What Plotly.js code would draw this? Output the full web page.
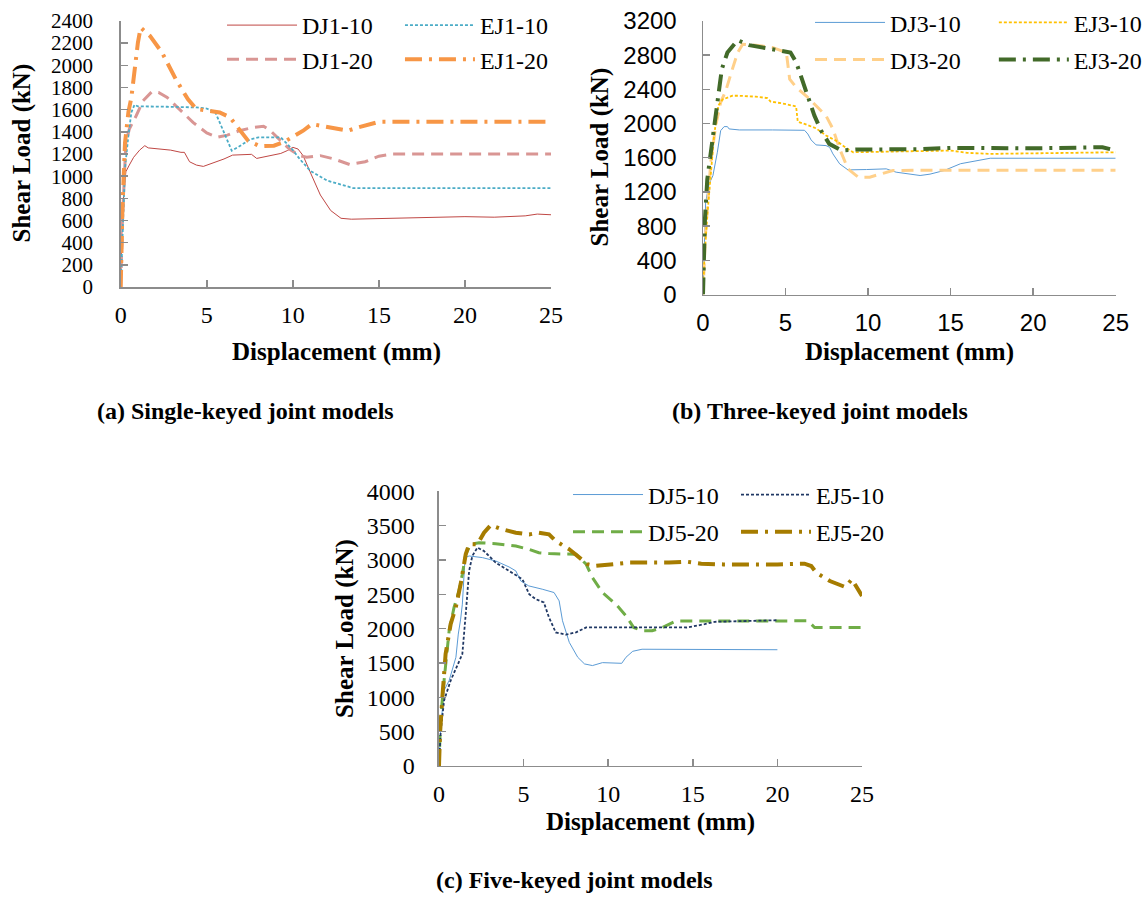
<!DOCTYPE html>
<html>
<head>
<meta charset="utf-8">
<script src="https://cdn.plot.ly/plotly-3.0.1.min.js"></script>
<style>html,body{margin:0;padding:0;background:#fff;}#chart{width:1148px;height:897px;}</style>
</head>
<body>
<div id="chart"></div>
<script>
// ---------- Panel (a) Single-keyed joint models ----------
const a_dj110_x = [0,0.05,0.15,0.3,0.5,0.75,1.1,1.4,1.6,2.3,2.9,3.5,3.7,4.0,4.4,4.8,5.4,6.0,6.5,7.3,7.6,7.9,8.5,9.3,9.7,10.0,10.3,10.6,11.0,11.6,12.2,12.8,13.4,15.8,17.9,20.0,21.7,23.5,24.2,25];
const a_dj110_y = [0,400,790,1040,1100,1170,1235,1275,1255,1245,1235,1215,1215,1130,1100,1088,1120,1155,1190,1191,1197,1160,1180,1205,1232,1260,1245,1185,1040,830,690,620,612,622,628,635,630,642,658,652];
const a_ej110_x = [0,0.1,0.25,0.45,0.62,0.8,1.0,2.7,4.4,5.0,5.5,6.0,6.45,6.9,7.5,8.0,8.7,9.3,9.55,9.95,10.4,11.0,12.0,13.3,13.5,25];
const a_ej110_y = [0,500,1070,1370,1575,1644,1630,1626,1620,1610,1575,1395,1230,1270,1330,1350,1347,1350,1310,1245,1155,1050,960,900,893,893];
const a_dj120_x = [0,0.1,0.3,0.5,0.9,1.3,1.8,2.2,2.7,3.4,4.2,5.0,5.6,6.2,6.9,7.7,8.3,8.7,9.3,9.8,10.4,10.8,11.6,12.4,13.3,14.2,15.0,15.8,25];
const a_dj120_y = [0,600,1300,1425,1545,1680,1760,1755,1710,1605,1485,1390,1350,1370,1410,1440,1450,1410,1320,1245,1185,1170,1185,1155,1105,1130,1180,1200,1200];
const a_ej120_x = [0,0.1,0.25,0.45,0.62,0.8,1.0,1.16,1.7,2.4,3.2,3.9,4.4,5.2,5.75,6.35,6.95,7.4,8.1,8.9,9.45,10.0,10.6,11.1,11.6,12.4,13.2,13.8,15.0,25];
const a_ej120_y = [0,700,1300,1580,1710,1965,2205,2340,2265,2115,1875,1695,1605,1588,1575,1530,1410,1320,1270,1275,1305,1356,1410,1470,1455,1425,1410,1440,1490,1490];

// ---------- Panel (b) Three-keyed joint models ----------
const b_dj310_x = [0,0.16,0.37,0.6,0.87,1.07,1.28,1.48,1.58,2.2,4.2,6.15,6.35,6.55,6.85,7.45,7.67,7.87,8.28,8.78,9.9,11.1,11.7,12.3,13.15,13.75,14.6,15.6,16.7,17.4,25];
const b_dj310_y = [0,1080,1295,1390,1665,1917,1964,1964,1937,1925,1925,1921,1878,1808,1750,1742,1723,1645,1528,1458,1462,1470,1431,1412,1392,1408,1450,1530,1570,1594,1594];
const b_ej310_x = [0,0.08,0.26,0.47,0.67,0.93,1.18,1.78,2.2,3.2,3.9,4.1,4.8,5.64,5.74,6.15,6.85,7.45,8.05,8.7,9.1,15.0,16.0,17.4,25];
const b_ej310_y = [0,400,925,1390,1860,2210,2280,2325,2325,2314,2298,2256,2236,2200,2022,1995,1944,1860,1800,1711,1664,1684,1657,1645,1664];
const b_dj320_x = [0,0.15,0.47,0.77,1.07,1.38,1.78,2.1,2.4,3.2,4.2,5.05,5.25,5.65,6.35,6.85,7.45,7.87,8.28,8.78,9.4,10.1,10.8,11.5,13.35,25];
const b_dj320_y = [0,700,1548,1976,2248,2384,2637,2831,2928,2917,2890,2831,2520,2423,2306,2209,2092,1937,1703,1470,1373,1373,1412,1450,1455,1455];
const b_ej320_x = [0,0.06,0.12,0.26,0.47,0.67,0.87,1.14,1.48,2.1,2.8,4.0,5.3,5.65,6.25,6.75,7.15,7.65,8.4,9.3,13.0,15.0,20.0,23.5,24.2,25];
const b_ej320_y = [0,450,890,1350,1664,1937,2248,2637,2831,2975,2917,2870,2831,2714,2364,2092,1917,1762,1684,1696,1700,1715,1710,1712,1723,1684];

// ---------- Panel (c) Five-keyed joint models ----------
const c_dj510_x = [0,0.1,0.3,0.6,1.0,1.14,1.28,1.38,1.54,1.78,2.56,3.35,4.14,4.54,4.83,5.3,6.1,6.8,7.1,7.3,7.7,8.2,8.6,9.07,9.66,10.26,10.8,11.05,11.45,12.0,20];
const c_dj510_y = [0,550,1100,1244,1583,1921,2139,2357,3035,3059,3035,2986,2899,2841,2696,2623,2575,2526,2405,2115,1800,1583,1486,1462,1505,1505,1495,1583,1670,1700,1693];
const c_ej510_x = [0,0.1,0.3,0.69,1.08,1.38,1.58,1.78,1.97,2.27,2.66,3.35,4.14,4.93,5.33,5.72,6.2,6.5,6.9,7.5,8.1,8.7,11.2,14.65,15.7,16.3,20];
const c_ej510_y = [0,500,953,1244,1462,1631,2212,2841,3059,3180,3131,2962,2841,2720,2502,2430,2381,2163,1946,1912,1946,2018,2018,2017,2065,2100,2123];
const c_dj520_x = [0,0.1,0.3,0.6,0.89,1.18,1.38,1.58,1.87,2.37,3.35,4.54,5.3,5.9,6.5,7.3,8.1,8.7,9.07,9.66,10.45,11.05,11.5,12.0,12.6,13.2,14.0,17.0,21.8,22.2,25];
const c_dj520_y = [0,700,1244,1970,2309,2551,2793,3083,3228,3252,3238,3204,3156,3107,3093,3083,3083,2938,2744,2526,2357,2188,2018,1970,1970,2018,2110,2110,2114,2017,2017];
const c_ej520_x = [0,0.06,0.2,0.39,0.69,0.99,1.28,1.58,1.78,2.27,2.66,3.06,3.75,4.54,5.33,5.9,6.5,6.9,7.7,8.3,8.78,9.27,10.26,11.24,13.6,14.65,15.5,16.8,20,21.6,22.0,22.3,23.1,24.0,24.4,25];
const c_ej520_y = [0,470,1002,1631,2067,2309,2647,3083,3228,3228,3398,3509,3446,3398,3373,3398,3373,3277,3156,3035,2938,2914,2938,2962,2962,2975,2946,2936,2936,2946,2912,2815,2694,2607,2718,2477];

const seriesNames = ["DJ1-10","EJ1-10","DJ1-20","EJ1-20","DJ3-10","EJ3-10","DJ3-20","EJ3-20","DJ5-10","EJ5-10","DJ5-20","EJ5-20"];
const captions = ["(a) Single-keyed joint models","(b) Three-keyed joint models","(c) Five-keyed joint models"];
const xTitle = "Displacement (mm)";
const yTitle = "Shear Load (kN)";

const SERIF = "Liberation Serif, Times New Roman, serif";
const SANS = "Liberation Sans, Arial, sans-serif";

const DOT = {dash:"3px,2px", width:1.8};
const DASH = {dash:"12px,7px", width:3};
const DASHDOT = {dash:"17px,7px,3px,7px", width:4};
const SOLID = {dash:"solid", width:1};

function tr(x, y, name, color, style, xa, ya, leg){
  return {x:x, y:y, name:name, type:"scatter", mode:"lines", xaxis:xa, yaxis:ya, legend:leg,
    legendgroup:name, line:{color:color, width:style.width, dash:style.dash}, hoverinfo:"x+y+name"};
}

const data = [
  tr(a_dj110_x,a_dj110_y,seriesNames[0],"#bf4744",SOLID,"x","y","legend"),
  tr(a_dj120_x,a_dj120_y,seriesNames[2],"#d99694",DASH,"x","y","legend"),
  tr(a_ej110_x,a_ej110_y,seriesNames[1],"#4bacc6",DOT,"x","y","legend2"),
  tr(a_ej120_x,a_ej120_y,seriesNames[3],"#f79646",DASHDOT,"x","y","legend2"),

  tr(b_dj310_x,b_dj310_y,seriesNames[4],"#5b9bd5",SOLID,"x2","y2","legend3"),
  tr(b_dj320_x,b_dj320_y,seriesNames[6],"#ffd08a",DASH,"x2","y2","legend3"),
  tr(b_ej310_x,b_ej310_y,seriesNames[5],"#ffc000",DOT,"x2","y2","legend4"),
  tr(b_ej320_x,b_ej320_y,seriesNames[7],"#426a29",DASHDOT,"x2","y2","legend4"),

  tr(c_dj510_x,c_dj510_y,seriesNames[8],"#5b9bd5",SOLID,"x3","y3","legend5"),
  tr(c_dj520_x,c_dj520_y,seriesNames[10],"#70ad47",DASH,"x3","y3","legend5"),
  tr(c_ej510_x,c_ej510_y,seriesNames[9],"#203864",DOT,"x3","y3","legend6"),
  tr(c_ej520_x,c_ej520_y,seriesNames[11],"#a67c00",DASHDOT,"x3","y3","legend6")
];

function xax(domain, anchor, tickFamily){
  return {domain:domain, anchor:anchor, range:[0,25], tick0:0, dtick:5, showgrid:false, zeroline:false,
    showline:true, linecolor:"#8c8c8c", linewidth:1.5, ticks:"inside", ticklen:7, tickcolor:"#8c8c8c", tickwidth:1.5,
    tickfont:{family:tickFamily, size:24, color:"#000"}, ticklabelstandoff:6,
    automargin:false, fixedrange:true};
}
function yax(domain, anchor, maxv, step, tickFamily, tls, fs){
  return {domain:domain, anchor:anchor, range:[0,maxv], tick0:0, dtick:step, showgrid:false, zeroline:false,
    showline:true, linecolor:"#8c8c8c", linewidth:1.5, ticks:"inside", ticklen:7, tickcolor:"#8c8c8c", tickwidth:1.5,
    tickfont:{family:tickFamily, size:fs, color:"#000"}, ticklabelstandoff:tls,
    automargin:false, fixedrange:true};
}
function leg(x, y, xanchor, gap){
  return {x:x, y:y, xanchor:xanchor, yanchor:"top", bgcolor:"rgba(0,0,0,0)", borderwidth:0,
    font:{family:SERIF, size:24, color:"#000"}, itemwidth:70, tracegroupgap:gap, itemclick:false, itemdoubleclick:false};
}
const W = 1148, H = 897;
function ann(text, px, py, size, angle){
  return {text:text, xref:"paper", yref:"paper", x:px/W, y:1-py/H, xanchor:"center", yanchor:"middle",
    showarrow:false, textangle:angle||0, font:{family:SERIF, size:size, color:"#000", weight:"bold"}};
}

const layout = {
  width:W, height:H, margin:{l:0,r:0,t:0,b:0}, paper_bgcolor:"#fff", plot_bgcolor:"rgba(0,0,0,0)",
  showlegend:true,
  xaxis: xax([0.10514,0.47997],"y",SERIF),
  yaxis: yax([0.68227,0.97993],"x",2400,200,SERIF,22,21),
  xaxis2: xax([0.61237,0.97186],"y2",SANS),
  yaxis2: yax([0.67391,0.97993],"x2",3200,400,SANS,20,24),
  xaxis3: xax([0.38240,0.75087],"y3",SERIF),
  yaxis3: yax([0.14660,0.45374],"x3",4000,500,SERIF,18,24),
  legend: leg(0.1934, 1.0, "left", 0),
  legend2: leg(0.3484, 1.0, "left", 0),
  legend3: leg(0.7056, 1.003, "left", 3),
  legend4: leg(0.999, 1.003, "right", 3),
  legend5: leg(0.4948, 0.4749, "left", 3),
  legend6: leg(0.6411, 0.4749, "left", 3),
  annotations:[
    ann(xTitle, 336, 350, 25), ann(yTitle, 22, 151, 25, -90),
    ann(xTitle, 909, 350, 25), ann(yTitle, 600, 155, 25, -90),
    ann(xTitle, 650, 822, 25), ann(yTitle, 345, 627, 25, -90),
    ann(captions[0], 245, 409, 24),
    ann(captions[1], 820, 409, 24),
    ann(captions[2], 574, 880, 24)
  ]
};

Plotly.newPlot("chart", data, layout, {staticPlot:true, displayModeBar:false});
</script>
</body>
</html>
